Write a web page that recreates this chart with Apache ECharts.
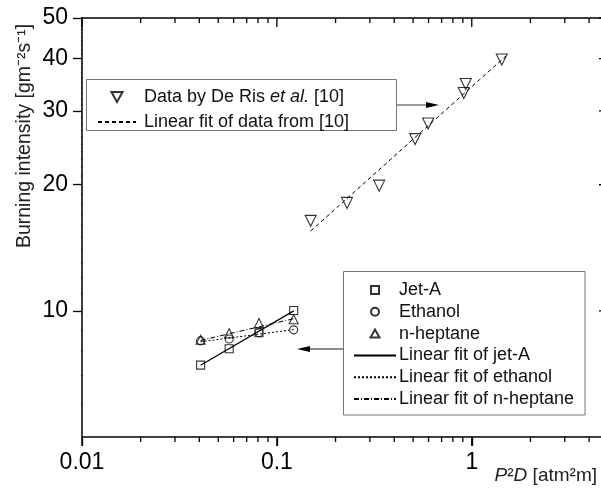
<!DOCTYPE html>
<html><head><meta charset="utf-8">
<script src="https://cdn.jsdelivr.net/npm/echarts@6/dist/echarts.min.js"></script>
<style>html,body{margin:0;padding:0;background:#fff}#c{width:601px;height:488px}</style>
</head><body><div id="c"></div>
<script>
// ---- tick values / labels ----
const xMajorTicks = [0.01, 0.1, 1];
const xTickLabels = ['0.01', '0.1', '1'];
const xMinorTicks = [0.02,0.03,0.04,0.05,0.06,0.07,0.08,0.09,0.2,0.3,0.4,0.5,0.6,0.7,0.8,0.9,2,3,4];
const yMajorTicks = [10, 20, 30, 40, 50];
const yTickLabels = ['10', '20', '30', '40', '50'];
const yMinorTicks = [6,7,8,9,11,12,13,14,15,16,17,18,19,21,22,23,24,25,26,27,28,29,31,32,33,34,35,36,37,38,39,41,42,43,44,45,46,47,48,49];

// ---- data ----
const deRisX = [0.149, 0.229, 0.335, 0.512, 0.597, 0.910, 0.931, 1.425];
const deRisY = [16.4, 18.1, 19.9, 25.7, 28.0, 33.1, 34.8, 39.8];
const deRisFitX = [0.149, 1.50];
const deRisFitY = [15.5, 40.6];

const fuelX = [0.0406, 0.0569, 0.0809, 0.122];
const jetAY = [7.42, 8.12, 8.87, 10.02];
const ethanolY = [8.48, 8.57, 8.87, 9.01];
const heptaneY = [8.53, 8.84, 9.35, 9.55];

const fitX = [0.0406, 0.122];
const jetAFitY = [7.42, 10.0];
const ethanolFitY = [8.44, 9.02];
const heptaneFitY = [8.50, 9.58];

const X_MIN = 0.01, X_MAX = 5, Y_MIN = 5, Y_MAX = 50;
const GRID = { left: 82, top: 18, width: 526, height: 419 };

const zip = (xs, ys) => xs.map((x, i) => [x, ys[i]]);
const FONT = 'Liberation Sans, Arial, sans-serif';
const near = (a, b) => Math.abs(Math.log10(a / b)) < 1e-6;

// pixel length -> multiplicative factor along each log axis (for tick segments)
const pxPerDecX = GRID.width / Math.log10(X_MAX / X_MIN);
const pxPerDecY = GRID.height / Math.log10(Y_MAX / Y_MIN);
const fx = len => Math.pow(10, len / pxPerDecX);
const fy = len => Math.pow(10, len / pxPerDecY);

function tickData(values, len, axis) {
  const out = [];
  values.forEach(v => {
    if (axis === 'x') {
      out.push([v, Y_MIN], [v, Y_MIN / fy(len)], null);      // bottom, outward
      out.push([v, Y_MAX], [v, Y_MAX / fy(len)], null);      // top, inward
    } else {
      out.push([X_MIN / fx(len), v], [X_MIN, v], null);      // left, outward
      out.push([X_MAX / fx(len), v], [X_MAX, v], null);      // right, inward
    }
  });
  return out;
}
function tickSeries(name, values, len, axis) {
  return { name: name, type: 'line', data: tickData(values, len, axis), symbol: 'none', showSymbol: false,
    connectNulls: false, clip: false, silent: true, z: 6, animation: false,
    lineStyle: { color: '#000', width: 1.3, type: 'solid' }, itemStyle: { color: '#000' } };
}

const hollow = { color: 'rgba(0,0,0,0)', borderColor: '#000', borderWidth: 1.1 };
const noSym = { opacity: 0 };

const chart = echarts.init(document.getElementById('c'));
chart.setOption({
  animation: false,
  backgroundColor: '#fff',
  tooltip: { show: false },
  grid: Object.assign({ containLabel: false, outerBoundsMode: 'none' }, GRID),
  xAxis: [
    { type: 'log', logBase: 10, min: X_MIN, max: X_MAX, position: 'bottom',
      axisLine: { show: true, lineStyle: { color: '#000', width: 1.5 } },
      axisTick: { show: true, customValues: xMajorTicks, length: 9, lineStyle: { color: '#000', width: 1.3 } },
      axisLabel: { show: true, customValues: xMajorTicks, margin: 14, fontSize: 23, color: '#000', fontFamily: FONT,
        formatter: v => xTickLabels[xMajorTicks.findIndex(t => near(t, v))] },
      splitLine: { show: false }, minorTick: { show: false } },
    { type: 'log', logBase: 10, min: X_MIN, max: X_MAX, position: 'top',
      axisLine: { show: true, lineStyle: { color: '#000', width: 1.5 } },
      axisTick: { show: false }, axisLabel: { show: false }, splitLine: { show: false } }
  ],
  yAxis: [
    { type: 'log', logBase: 10, min: Y_MIN, max: Y_MAX, position: 'left',
      axisLine: { show: true, lineStyle: { color: '#000', width: 1.5 } },
      axisTick: { show: true, customValues: yMajorTicks, length: 9, lineStyle: { color: '#000', width: 1.3 } },
      axisLabel: { show: true, customValues: yMajorTicks, margin: 14, fontSize: 23, color: '#000', fontFamily: FONT,
        formatter: v => yTickLabels[yMajorTicks.findIndex(t => near(t, v))] },
      splitLine: { show: false }, minorTick: { show: false } },
    { type: 'log', logBase: 10, min: Y_MIN, max: Y_MAX, position: 'right',
      axisLine: { show: true, lineStyle: { color: '#000', width: 1.5 } },
      axisTick: { show: false }, axisLabel: { show: false }, splitLine: { show: false } }
  ],
  legend: [
    {
      left: 97, top: 88, orient: 'vertical', selectedMode: false,
      itemWidth: 38, itemHeight: 10, itemGap: 7,
      data: [
        { name: 'Data by De Ris et al. [10]', icon: 'path://M0,0L10,0L5,9Z' },
        { name: 'Linear fit of data from [10]', itemStyle: noSym }
      ],
      formatter: n => n === 'Data by De Ris et al. [10]' ? '{n|Data by De Ris }{i|et al.}{n| [10]}' : '{n|' + n + '}',
      textStyle: { fontSize: 18, color: '#111', fontFamily: FONT, padding: [0, 0, 0, 3],
        rich: { n: { fontSize: 18, fontFamily: FONT, color: '#111', lineHeight: 18 },
                i: { fontSize: 18, fontFamily: FONT, color: '#111', fontStyle: 'italic', lineHeight: 18 } } },
      padding: 0
    },
    {
      left: 353, top: 281, orient: 'vertical', selectedMode: false,
      itemWidth: 42, itemHeight: 8, itemGap: 3.8,
      data: [
        { name: 'Jet-A', icon: 'path://M0,0L8,0L8,8L0,8Z' },
        { name: 'Ethanol', icon: 'circle' },
        { name: 'n-heptane', icon: 'path://M5,0L10,9L0,9Z' },
        { name: 'Linear fit of jet-A', itemStyle: noSym },
        { name: 'Linear fit of ethanol', itemStyle: noSym },
        { name: 'Linear fit of n-heptane', itemStyle: noSym }
      ],
      formatter: n => '{n|' + n + '}',
      textStyle: { fontSize: 18, color: '#111', fontFamily: FONT, padding: [0, 0, 0, -2],
        rich: { n: { fontSize: 18, fontFamily: FONT, color: '#111', lineHeight: 18 } } },
      padding: 0
    }
  ],
  series: [
    { name: 'Data by De Ris et al. [10]', type: 'scatter', data: zip(deRisX, deRisY),
      symbol: 'triangle', symbolRotate: 180, symbolSize: 11, itemStyle: hollow, z: 3 },
    { name: 'Linear fit of data from [10]', type: 'line', data: zip(deRisFitX, deRisFitY), symbol: 'none',
      itemStyle: { color: '#000' }, lineStyle: { color: '#000', width: 1, type: [4, 3] }, z: 2 },
    { name: 'Jet-A', type: 'scatter', data: zip(fuelX, jetAY), symbol: 'rect', symbolSize: 8, itemStyle: hollow, z: 3 },
    { name: 'Ethanol', type: 'scatter', data: zip(fuelX, ethanolY), symbol: 'circle', symbolSize: 8, itemStyle: hollow, z: 3 },
    { name: 'n-heptane', type: 'scatter', data: zip(fuelX, heptaneY), symbol: 'triangle', symbolSize: 9, itemStyle: hollow, z: 3 },
    { name: 'Linear fit of jet-A', type: 'line', data: zip(fitX, jetAFitY), symbol: 'none',
      itemStyle: { color: '#000' }, lineStyle: { color: '#000', width: 1.2, type: 'solid' }, z: 2 },
    { name: 'Linear fit of ethanol', type: 'line', data: zip(fitX, ethanolFitY), symbol: 'none',
      itemStyle: { color: '#000' }, lineStyle: { color: '#000', width: 1, type: [2, 2] }, z: 2 },
    { name: 'Linear fit of n-heptane', type: 'line', data: zip(fitX, heptaneFitY), symbol: 'none',
      itemStyle: { color: '#000' }, lineStyle: { color: '#000', width: 1, type: [5, 2, 1, 2] }, z: 2 },
    tickSeries('x major ticks', xMajorTicks, 9, 'x'),
    tickSeries('x minor ticks', xMinorTicks, 5, 'x'),
    tickSeries('y major ticks', yMajorTicks, 9, 'y'),
    tickSeries('y minor ticks', yMinorTicks, 5, 'y')
  ],
  graphic: [
    { type: 'rect', shape: { x: 86.5, y: 79.5, width: 310, height: 51 }, style: { fill: '#fff', stroke: '#777', lineWidth: 1 }, z: 0 },
    { type: 'rect', shape: { x: 343.5, y: 271.5, width: 241.5, height: 143.5 }, style: { fill: '#fff', stroke: '#777', lineWidth: 1 }, z: 0 },
    { type: 'line', shape: { x1: 397, y1: 105, x2: 428, y2: 105 }, style: { stroke: '#666', lineWidth: 1.3 } },
    { type: 'polygon', shape: { points: [[426, 102], [439, 105], [426, 108]] }, style: { fill: '#000' } },
    { type: 'line', shape: { x1: 343, y1: 349, x2: 308, y2: 349 }, style: { stroke: '#666', lineWidth: 1.3 } },
    { type: 'polygon', shape: { points: [[310, 346], [297, 349], [310, 352]] }, style: { fill: '#000' } },
    { type: 'text', x: 25, y: 136, rotation: Math.PI / 2,
      style: { text: 'Burning intensity [gm⁻²s⁻¹]', fontSize: 19.5, fontFamily: FONT, fill: '#222', align: 'center', verticalAlign: 'middle' } },
    { type: 'text', x: 597, y: 476,
      style: { text: '{i|P}{n|²}{i|D}{n| [atm²m]}', fontSize: 19, fontFamily: FONT, fill: '#222', align: 'right', verticalAlign: 'middle',
        rich: { i: { fontStyle: 'italic', fontSize: 19, fontFamily: FONT, fill: '#222' }, n: { fontSize: 19, fontFamily: FONT, fill: '#222' } } } }
  ]
});
</script>
</body></html>
